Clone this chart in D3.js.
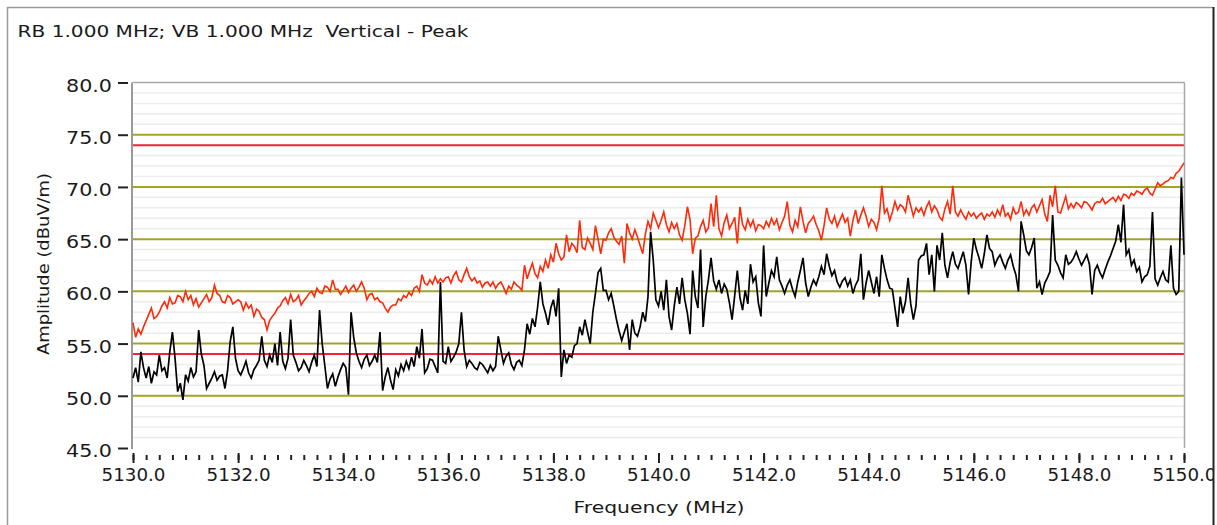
<!DOCTYPE html>
<html><head><meta charset="utf-8">
<script src="https://cdn.jsdelivr.net/npm/d3@7"></script>
<style>
html,body{margin:0;padding:0;background:#fff;}
svg{display:block;}
text{font-family:"DejaVu Sans",sans-serif;fill:#1a1a1a;white-space:pre;}
</style></head><body>
<svg id="chart" width="1217" height="525"></svg>
<script>
// ---- data ----
const title = "RB 1.000 MHz; VB 1.000 MHz  Vertical - Peak";
const xLabel = "Frequency (MHz)";
const yLabel = "Amplitude (dBuV/m)";
const xDomain = [5130, 5150];
const yDomain = [45, 80];
const xMajorTicks = [5130,5132,5134,5136,5138,5140,5142,5144,5146,5148,5150];
const yMajorTicks = [45,50,55,60,65,70,75,80];
const olivePlotLines = [50,55,60,65,70,75];
const limitLines = [74, 54];
const freqStart = 5130, freqStep = 0.05;   // trace samples every 0.05 MHz

// Peak trace (red), one value per 0.05 MHz, 5130.00 .. 5150.00
const peakAmp = [
57.0,55.6,56.4,55.9,56.6,57.2,57.8,58.4,57.4,57.6,58.0,58.6,59.0,58.4,59.4,58.8,58.9,59.6,59.5,59.0,
60.0,59.2,59.6,58.7,59.3,58.5,58.9,59.3,59.7,59.0,59.4,60.6,59.8,59.6,59.0,58.9,59.6,59.4,58.8,59.0,
59.2,59.0,58.2,58.9,58.4,58.7,57.6,58.3,58.1,57.5,57.3,56.3,57.2,57.6,57.9,58.4,58.6,59.1,59.4,58.8,
59.7,59.0,59.2,59.6,58.7,59.1,59.4,59.8,60.0,59.5,60.3,59.9,59.8,60.5,60.4,60.0,61.1,60.2,60.2,59.7,
60.1,60.5,59.9,60.3,60.6,60.0,60.4,60.9,60.3,59.2,59.7,59.8,59.2,59.4,59.0,58.9,58.4,58.0,58.5,58.7,
58.7,59.3,59.1,59.6,59.4,59.9,59.6,60.3,60.5,60.0,61.6,60.8,60.6,61.1,60.7,61.4,60.8,61.2,60.9,61.3,
61.4,60.8,61.5,61.9,61.1,60.9,61.6,62.2,61.4,61.0,61.3,60.8,61.0,60.4,60.8,60.9,60.5,60.9,60.3,60.7,
60.9,60.4,59.8,60.5,60.2,60.9,60.6,60.4,60.1,62.5,61.2,62.0,62.7,61.7,61.3,62.4,61.9,63.0,62.2,63.5,
62.8,64.6,63.6,63.0,63.3,65.4,63.8,64.6,64.3,63.7,66.8,64.2,64.0,65.1,64.6,64.0,66.3,65.0,63.6,65.0,
64.9,65.6,66.0,65.2,64.8,64.5,65.3,62.7,66.5,65.6,65.0,65.9,65.2,64.4,63.6,65.5,66.7,66.0,67.5,66.8,
66.1,66.8,67.6,66.4,65.7,66.6,66.0,66.5,65.4,64.9,66.3,68.1,66.9,63.6,65.1,65.3,66.2,66.8,65.7,66.1,
68.4,66.2,69.2,66.0,65.3,66.6,67.3,66.0,66.5,67.1,64.6,68.1,66.4,65.9,66.9,66.2,66.8,65.8,66.4,66.3,
66.0,66.7,66.2,67.0,66.4,66.9,65.9,66.6,67.2,68.6,66.3,65.7,66.8,66.2,68.1,66.7,65.6,66.5,66.8,67.2,
66.4,65.8,64.9,66.3,68.0,66.9,66.5,67.2,66.2,66.8,67.4,66.6,67.0,65.3,66.8,67.8,66.5,67.3,68.0,67.2,
66.2,66.9,66.6,65.9,67.0,70.1,67.5,67.9,66.8,67.6,68.6,67.8,68.3,68.1,67.6,69.2,68.2,67.2,68.0,67.6,
68.0,67.3,68.1,68.6,67.6,68.2,67.8,67.1,66.8,67.9,68.6,67.4,70.1,67.6,67.2,67.8,67.3,66.9,67.6,67.2,
67.5,67.0,67.3,67.5,66.9,67.4,67.2,67.6,67.1,67.8,67.3,68.3,67.2,67.5,66.9,68.0,67.4,67.6,68.6,67.3,
67.8,67.3,68.0,68.3,67.6,68.2,68.8,67.4,66.7,69.2,68.1,70.1,67.6,67.5,68.3,69.1,67.9,68.4,68.0,68.5,
68.3,68.0,68.6,68.5,68.2,67.8,68.4,68.6,68.5,68.9,68.4,68.6,68.8,69.0,68.6,69.1,68.7,69.3,69.2,68.9,
69.4,69.2,69.6,69.5,69.3,69.7,69.9,69.4,69.2,69.8,70.4,70.1,70.3,70.5,70.6,70.9,70.8,71.3,71.5,71.9,
72.3];

// Average trace (black), one value per 0.05 MHz, 5130.00 .. 5150.00
const avgAmp = [
51.7,52.7,51.3,54.2,52.7,51.7,52.8,51.2,52.3,52.0,53.9,52.4,52.7,51.7,54.2,56.1,53.6,50.4,51.2,49.6,
52.0,51.4,52.7,51.8,52.3,56.3,54.0,52.9,50.7,51.2,51.7,52.3,51.5,51.9,52.0,50.7,52.4,55.2,56.6,53.6,
52.4,52.0,52.6,53.3,52.2,51.7,52.5,52.9,53.4,55.7,53.4,52.8,53.9,53.2,55.0,52.9,56.1,53.3,52.6,53.6,
57.3,53.9,53.2,52.4,52.7,53.4,52.9,52.3,53.2,53.9,52.8,58.2,55.0,52.9,50.7,51.6,52.1,50.9,51.8,52.5,
53.1,52.7,50.1,58.0,55.6,54.1,53.3,52.7,53.5,53.9,52.9,53.3,53.9,53.2,56.1,50.5,51.8,52.7,51.5,50.6,
52.5,51.9,53.0,52.4,53.3,52.6,53.7,52.8,54.7,53.6,56.4,52.2,52.6,53.5,53.4,52.8,52.2,60.9,53.3,53.1,
54.7,53.3,53.7,54.2,55.0,58.0,54.4,52.8,53.4,53.1,52.7,52.5,53.2,53.0,52.6,52.2,52.9,52.4,52.8,55.7,
54.4,53.1,53.8,54.1,53.0,52.5,53.2,53.4,52.9,54.4,56.9,55.9,57.4,56.6,58.5,60.9,58.8,57.9,56.8,58.4,
59.2,57.6,60.3,51.8,54.4,53.1,53.9,53.7,54.8,55.0,56.6,55.8,57.3,56.1,55.0,58.0,59.8,61.8,62.2,60.1,
60.1,59.2,59.8,58.6,57.3,56.2,55.3,56.1,56.9,54.4,57.3,56.0,55.7,56.6,58.0,57.1,59.5,65.7,63.0,59.2,
58.6,60.0,58.2,61.1,57.6,56.3,58.6,60.4,58.8,61.3,59.2,57.9,55.9,62.0,59.5,58.4,64.0,56.6,59.5,61.1,
63.2,61.0,60.2,61.1,59.8,60.7,60.2,58.9,57.3,59.6,62.0,59.4,58.2,60.1,58.8,62.6,60.9,61.4,58.9,57.6,
64.4,59.5,60.8,62.0,61.4,63.3,61.1,60.5,59.8,60.6,61.1,60.2,59.5,60.9,62.0,63.2,60.8,59.5,60.4,61.1,
60.6,61.4,62.4,61.6,63.6,62.4,61.5,62.0,60.9,60.4,61.0,61.3,60.5,61.1,59.8,60.6,61.1,63.6,59.2,60.8,
62.0,60.9,59.8,61.4,59.5,63.5,62.2,61.1,60.3,60.2,58.4,56.6,59.5,57.9,59.0,61.3,58.8,57.3,58.6,63.0,
63.4,63.5,64.6,61.6,63.5,60.0,64.4,63.0,65.6,62.5,61.3,62.8,63.8,62.6,62.2,63.0,63.8,62.5,59.7,62.8,
65.1,64.0,63.2,62.2,63.6,65.4,64.1,63.8,62.5,63.1,63.5,62.8,62.2,63.0,63.5,62.4,61.6,60.0,66.7,65.4,
63.9,63.5,64.2,65.1,60.3,60.9,59.7,60.8,61.3,61.9,67.3,63.0,62.5,61.8,61.3,63.5,62.6,62.8,63.2,63.8,
63.1,62.5,63.0,63.5,62.6,59.7,62.0,62.5,61.8,61.3,62.1,62.8,63.4,64.1,64.8,66.4,64.7,68.3,63.5,64.0,
62.5,63.0,61.9,62.3,60.9,61.4,61.6,62.4,67.6,61.2,60.6,61.3,61.9,61.1,60.9,64.4,60.3,59.7,60.0,70.9,
63.5];

// ---- layout ----
const svg = d3.select("#chart");
const W = 1217, H = 525;
const plot = {left:132.5, right:1184.5, top:82.5, bottom:448};
const x = d3.scaleLinear().domain(xDomain).range([133, 1184]);
const y = d3.scaleLinear().domain(yDomain).range([plot.bottom, plot.top]);

// title
svg.append("text").attr("x",17.5).attr("y",37).attr("font-size",16)
  .attr("textLength",451).attr("lengthAdjust","spacingAndGlyphs").text(title);

// light minor gridlines every 1 dB
const minorY = d3.range(yDomain[0]+1, yDomain[1]).filter(v => v % 5 !== 0);
svg.append("g").selectAll("line").data(minorY).join("line")
  .attr("x1", plot.left).attr("x2", plot.right)
  .attr("y1", d => y(d)).attr("y2", d => y(d))
  .attr("stroke","#ececec").attr("stroke-width",1.5);

// olive major lines
svg.append("g").selectAll("line").data(olivePlotLines).join("line")
  .attr("x1", plot.left).attr("x2", plot.right)
  .attr("y1", d => y(d)).attr("y2", d => y(d))
  .attr("stroke","#a3a328").attr("stroke-width",2);

// limit lines
svg.append("g").selectAll("line").data(limitLines).join("line")
  .attr("x1", plot.left).attr("x2", plot.right)
  .attr("y1", d => y(d)).attr("y2", d => y(d))
  .attr("stroke","#f3233a").attr("stroke-width",2);

// plot frame (top, right) and left axis line
svg.append("line").attr("x1",plot.left).attr("x2",plot.right).attr("y1",plot.top).attr("y2",plot.top).attr("stroke","#a8a8a8").attr("stroke-width",1.5);
svg.append("line").attr("x1",plot.right).attr("x2",plot.right).attr("y1",plot.top).attr("y2",plot.bottom).attr("stroke","#a8a8a8").attr("stroke-width",1.5);
svg.append("line").attr("x1",132).attr("x2",132).attr("y1",plot.top).attr("y2",plot.bottom+1).attr("stroke","#9a9a9a").attr("stroke-width",2);

// traces
const toPts = arr => arr.map((v,i)=>[freqStart + i*freqStep, v]);
const line = d3.line().x(d=>x(d[0])).y(d=>y(d[1]));
svg.append("path").datum(toPts(peakAmp)).attr("d",line).attr("fill","none").attr("stroke","#ff2a0a").attr("stroke-width",1.6);
svg.append("path").datum(toPts(avgAmp)).attr("d",line).attr("fill","none").attr("stroke","#000").attr("stroke-width",1.7);

// y axis
const yAxis = d3.axisLeft(y).tickValues(yMajorTicks).tickFormat(d3.format(".1f")).tickSize(10).tickPadding(6);
const gy = svg.append("g").attr("transform","translate(128,0)").call(yAxis);
gy.select(".domain").remove();
gy.selectAll(".tick line").attr("stroke","#222").attr("stroke-width",2);
gy.selectAll(".tick text").attr("font-size",17).attr("font-family","DejaVu Sans").attr("fill","#1a1a1a")
  .attr("dy","0.5em").attr("textLength",46).attr("lengthAdjust","spacingAndGlyphs");

// x axis: minor ticks
const xMinor = d3.range(0, 81).map(i => xDomain[0] + i*0.25);
const gxm = svg.append("g").attr("transform",`translate(0,${plot.bottom+7})`)
  .call(d3.axisBottom(x).tickValues(xMinor).tickSize(5).tickFormat(""));
gxm.select(".domain").remove();
gxm.selectAll(".tick line").attr("stroke","#222").attr("stroke-width",2);
const gx = svg.append("g").attr("transform",`translate(0,${plot.bottom+5})`)
  .call(d3.axisBottom(x).tickValues(xMajorTicks).tickSize(10).tickPadding(6).tickFormat(d3.format(".1f")));
gx.select(".domain").remove();
gx.selectAll(".tick line").attr("stroke","#222").attr("stroke-width",2);
gx.selectAll(".tick text").attr("font-size",17).attr("font-family","DejaVu Sans").attr("fill","#1a1a1a")
  .attr("textLength",64).attr("lengthAdjust","spacingAndGlyphs");

// axis labels
svg.append("text").attr("x",659).attr("y",513).attr("text-anchor","middle").attr("font-size",16)
  .attr("textLength",171).attr("lengthAdjust","spacingAndGlyphs").text(xLabel);
svg.append("text").attr("transform","translate(49,264) rotate(-90)").attr("text-anchor","middle").attr("font-size",16)
  .attr("textLength",182).attr("lengthAdjust","spacingAndGlyphs").text(yLabel);

// outer frame (drawn last so it clips the last tick label like the original)
svg.append("rect").attr("x",1213).attr("y",0).attr("width",4).attr("height",H).attr("fill","#fff");
svg.append("line").attr("x1",7.5).attr("x2",7.5).attr("y1",7).attr("y2",H).attr("stroke","#9a9a9a").attr("stroke-width",1.5);
svg.append("line").attr("x1",7).attr("x2",1213).attr("y1",7.5).attr("y2",7.5).attr("stroke","#9a9a9a").attr("stroke-width",1.5);
svg.append("line").attr("x1",1213.5).attr("x2",1213.5).attr("y1",7).attr("y2",H).attr("stroke","#222").attr("stroke-width",2);
</script>
</body></html>
